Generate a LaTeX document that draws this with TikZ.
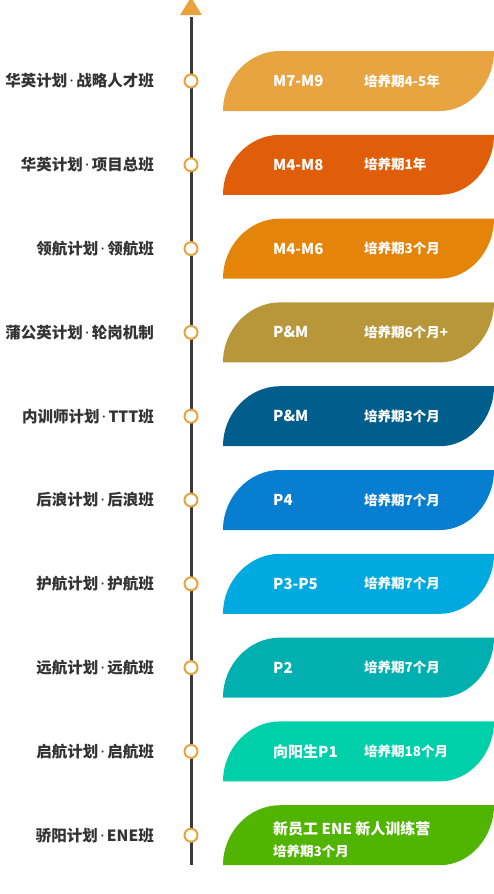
\documentclass[tikz,border=0pt]{standalone}
\usepackage{fontspec}
\setmainfont{Noto Sans CJK SC}
\newfontfamily\latinfont{Noto Sans}
\usepackage{xcolor}
\usetikzlibrary{shapes.geometric}
\definecolor{tiporange}{RGB}{232,163,61}
\definecolor{spinegray}{RGB}{58,58,58}
\definecolor{labelgray}{RGB}{51,51,51}
\definecolor{bandA}{RGB}{232,164,64}
\definecolor{bandB}{RGB}{224,94,10}
\definecolor{bandC}{RGB}{228,132,8}
\definecolor{bandD}{RGB}{184,150,58}
\definecolor{bandE}{RGB}{0,94,140}
\definecolor{bandF}{RGB}{8,126,208}
\definecolor{bandG}{RGB}{0,170,224}
\definecolor{bandH}{RGB}{0,176,176}
\definecolor{bandI}{RGB}{0,208,170}
\definecolor{bandJ}{RGB}{80,180,0}
\newcommand{\sep}{{\latinfont\hbox to 9pt{\hss·\hss}}}

\begin{document}
\begin{tikzpicture}[
  x=1pt, y=-1pt,
  every node/.style={inner sep=0pt},
  plan/.style={anchor=east, text=labelgray, font=\fontsize{15.5}{18}\selectfont\bfseries},
  level/.style={anchor=west, text=white, font=\fontsize{15}{18}\selectfont\bfseries},
  period/.style={anchor=west, text=white, font=\fontsize{13.5}{16}\selectfont\bfseries},
  dot/.style={circle, draw=tiporange, fill=white, line width=2pt, minimum size=13pt},
  spine/.style={draw=spinegray, line width=3pt},
  tip/.style={isosceles triangle, shape border rotate=90, isosceles triangle stretches,
    minimum width=22pt, minimum height=18pt, fill=tiporange},
  leaf/.pic={\fill[pic actions] (0,60) .. controls (0,27) and (26,0) .. (57,0) -- (271,0)
    .. controls (271,33) and (246,60) .. (217,60) -- cycle;}
]
\useasboundingbox (0,0) rectangle (494,894);

% timeline
\coordinate (top) at (191,17);
\coordinate (bottom) at (191,865);
\draw[spine] (bottom) -- (top);
\node[tip] (arrowhead) at (191,9) {};

% bands
\pic[fill=bandA] (leafA) at (223,51) {leaf};
\pic[fill=bandB] (leafB) at (223,134.8) {leaf};
\pic[fill=bandC] (leafC) at (223,218.6) {leaf};
\pic[fill=bandD] (leafD) at (223,302.4) {leaf};
\pic[fill=bandE] (leafE) at (223,386.2) {leaf};
\pic[fill=bandF] (leafF) at (223,470) {leaf};
\pic[fill=bandG] (leafG) at (223,553.8) {leaf};
\pic[fill=bandH] (leafH) at (223,637.6) {leaf};
\pic[fill=bandI] (leafI) at (223,721.4) {leaf};
\pic[fill=bandJ] (leafJ) at (223,805.2) {leaf};

% dots on the timeline
\node[dot] (dotA) at (191,81) {};
\node[dot] (dotB) at (191,164.8) {};
\node[dot] (dotC) at (191,248.6) {};
\node[dot] (dotD) at (191,332.4) {};
\node[dot] (dotE) at (191,416.2) {};
\node[dot] (dotF) at (191,500) {};
\node[dot] (dotG) at (191,583.8) {};
\node[dot] (dotH) at (191,667.6) {};
\node[dot] (dotI) at (191,751.4) {};
\node[dot] (dotJ) at (191,835.2) {};

% plan names
\node[plan] (planA) at (154,81) {华英计划\sep 战略人才班};
\node[plan] (planB) at (154,164.8) {华英计划\sep 项目总班};
\node[plan] (planC) at (154,248.6) {领航计划\sep 领航班};
\node[plan] (planD) at (154,332.4) {蒲公英计划\sep 轮岗机制};
\node[plan] (planE) at (154,416.2) {内训师计划\sep TTT班};
\node[plan] (planF) at (154,500) {后浪计划\sep 后浪班};
\node[plan] (planG) at (154,583.8) {护航计划\sep 护航班};
\node[plan] (planH) at (154,667.6) {远航计划\sep 远航班};
\node[plan] (planI) at (154,751.4) {启航计划\sep 启航班};
\node[plan] (planJ) at (154,835.2) {骄阳计划\sep ENE班};

% levels and periods
\node[level] (levelA) at (273,81) {M7-M9};
\node[period] (periodA) at (364,81) {培养期4-5年};
\node[level] (levelB) at (273,164.8) {M4-M8};
\node[period] (periodB) at (364,164.8) {培养期1年};
\node[level] (levelC) at (273,248.6) {M4-M6};
\node[period] (periodC) at (364,248.6) {培养期3个月};
\node[level] (levelD) at (273,332.4) {P\&M};
\node[period] (periodD) at (364,332.4) {培养期6个月+};
\node[level] (levelE) at (273,416.2) {P\&M};
\node[period] (periodE) at (364,416.2) {培养期3个月};
\node[level] (levelF) at (273,500) {P4};
\node[period] (periodF) at (364,500) {培养期7个月};
\node[level] (levelG) at (273,583.8) {P3-P5};
\node[period] (periodG) at (364,583.8) {培养期7个月};
\node[level] (levelH) at (273,667.6) {P2};
\node[period] (periodH) at (364,667.6) {培养期7个月};
\node[level] (levelI) at (273,751.4) {向阳生P1};
\node[period] (periodI) at (364,751.4) {培养期18个月};
\node[level] (levelJ) at (273,828.5) {新员工 ENE 新人训练营};
\node[period] (periodJ) at (273,851) {培养期3个月};
\end{tikzpicture}
\end{document}
